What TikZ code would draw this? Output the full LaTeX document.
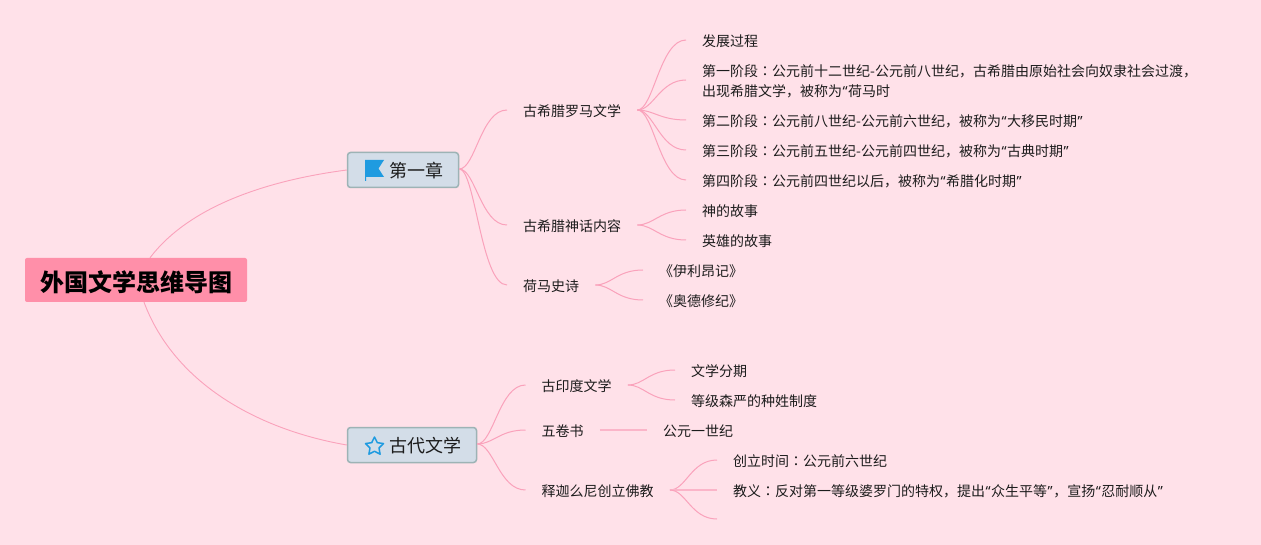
\documentclass[tikz,border=0pt]{standalone}
\usepackage{fontspec}
\setmainfont{Noto Sans CJK SC}
\newfontfamily\jpfont{Noto Sans CJK JP}
\newfontfamily\quotefont{Noto Sans}
\usetikzlibrary{calc,shapes.geometric}
\definecolor{bgpink}{HTML}{FFE1E9}
\definecolor{rootpink}{HTML}{FF8FA9}
\definecolor{linkpink}{HTML}{FAA2BB}
\definecolor{boxfill}{HTML}{D3DDE8}
\definecolor{boxline}{HTML}{9DB3B5}
\definecolor{iconblue}{HTML}{1F9BE0}
\definecolor{inktext}{HTML}{1C1C1C}
\newcommand{\cln}{{\jpfont ：}}
\newcommand{\opq}{\kern.5pt{\quotefont “}\kern.5pt}
\newcommand{\clq}{\kern.5pt{\quotefont ”}\kern.5pt}
\begin{document}
\begin{tikzpicture}[x=1pt,y=-1pt]
	\tikzset{
		root/.style={fill=rootpink,rounded corners=2,minimum width=222,minimum height=44,inner sep=0,text height=23pt,text depth=.8pt,font=\fontsize{24}{28}\selectfont\bfseries},
		chapter/.style={fill=boxfill,draw=boxline,line width=1.5,rounded corners=3,minimum height=35,inner sep=0,text height=16pt,text depth=.3pt,text=inktext,font=\fontsize{18}{22}\selectfont},
		topic/.style={anchor=west,inner xsep=16,inner ysep=2,text=inktext,font=\fontsize{14}{20}\selectfont,align=left},
		rootlink/.style={draw=linkpink,line width=.9},
		link/.style={draw=linkpink,line width=1,to path={($(\tikztostart)+(0,-1)$) .. controls ($(\tikztostart)+(16,-1)$) and ($(\tikztotarget)+(-26,-1)$) .. ($(\tikztotarget)+(0,-1)$)}},
		flatlink/.style={link,draw=linkpink!70!bgpink,line width=1.8}
	}
	\fill[bgpink] (0,0) rectangle (1261,545);
	\useasboundingbox (0,0) rectangle (1261,545);

	\node[root] (root) at (136,280) {外国文学思维导图};
	\node[chapter,minimum width=111] (ch1) at (403,170) {\hspace*{26pt}第一章};
	\node[chapter,minimum width=129] (ch2) at (412,445) {\hspace*{26pt}古代文学};

	% icons
	\fill[iconblue] (365,160) -- (384,160) -- (378.5,168.5) -- (384,177) -- (366,177) -- (366,181) -- (365,181) -- cycle;
	\node[star,star points=5,star point ratio=2.0,draw=iconblue,line width=1.5,line join=round,minimum size=19,inner sep=0] (staricon) at (374.5,446.5) {};

	% first chapter
	\node[topic] (greek) at (507,111) {古希腊罗马文学};
	\node[topic] (myth) at (507,226) {古希腊神话内容};
	\node[topic] (homer) at (507,286) {荷马史诗};
	\node[topic] (process) at (686,41) {发展过程};
	\node[topic] (stage1) at (686,81) {第一阶段\cln 公元前十二世纪-公元前八世纪，古希腊由原始社会向奴隶社会过渡，\\出现希腊文学，被称为\opq 荷马时};
	\node[topic] (stage2) at (686,121) {第二阶段\cln 公元前八世纪-公元前六世纪，被称为\opq 大移民时期\clq};
	\node[topic] (stage3) at (686,151) {第三阶段\cln 公元前五世纪-公元前四世纪，被称为\opq 古典时期\clq};
	\node[topic] (stage4) at (686,181) {第四阶段\cln 公元前四世纪以后，被称为\opq 希腊化时期\clq};
	\node[topic] (gods) at (686,211) {神的故事};
	\node[topic] (heroes) at (686,241) {英雄的故事};
	\node[topic] (iliad) at (643,271) {《伊利昂记》};
	\node[topic] (odyssey) at (643,301) {《奥德修纪》};

	% second chapter
	\node[topic] (india) at (525.5,386) {古印度文学};
	\node[topic] (panch) at (525.5,431) {五卷书};
	\node[topic] (buddha) at (525.5,491) {释迦么尼创立佛教};
	\node[topic] (period) at (675,371) {文学分期};
	\node[topic] (caste) at (675,401) {等级森严的种姓制度};
	\node[topic] (century) at (647,431) {公元一世纪};
	\node[topic] (founded) at (717,461) {创立时间\cln 公元前六世纪};
	\node[topic] (doctrine) at (717,491) {教义\cln 反对第一等级婆罗门的特权，提出\opq 众生平等\clq ，宣扬\opq 忍耐顺从\clq};
	\coordinate (blank) at (717,520);

	% root links
	\draw[rootlink] ([xshift=14]root.north) .. controls (190,205) and (270,180) .. (ch1.west);
	\draw[rootlink] ([xshift=8]root.south) .. controls (175,385) and (260,430) .. (ch2.west);

	\draw[link] (ch1.east) to (greek.west);
	\draw[link] (ch1.east) to (myth.west);
	\draw[link] (ch1.east) to (homer.west);
	\draw[link] (greek.east) to (process.west);
	\draw[link] (greek.east) to (stage1.west);
	\draw[link] (greek.east) to (stage2.west);
	\draw[link] (greek.east) to (stage3.west);
	\draw[link] (greek.east) to (stage4.west);
	\draw[link] (myth.east) to (gods.west);
	\draw[link] (myth.east) to (heroes.west);
	\draw[link] (homer.east) to (iliad.west);
	\draw[link] (homer.east) to (odyssey.west);

	\draw[link] (ch2.east) to (india.west);
	\draw[link] (ch2.east) to (panch.west);
	\draw[link] (ch2.east) to (buddha.west);
	\draw[link] (india.east) to (period.west);
	\draw[link] (india.east) to (caste.west);
	\draw[flatlink] (panch.east) to (century.west);
	\draw[link] (buddha.east) to (founded.west);
	\draw[flatlink] (buddha.east) to (doctrine.west);
	\draw[link] (buddha.east) to (blank);
\end{tikzpicture}
\end{document}
